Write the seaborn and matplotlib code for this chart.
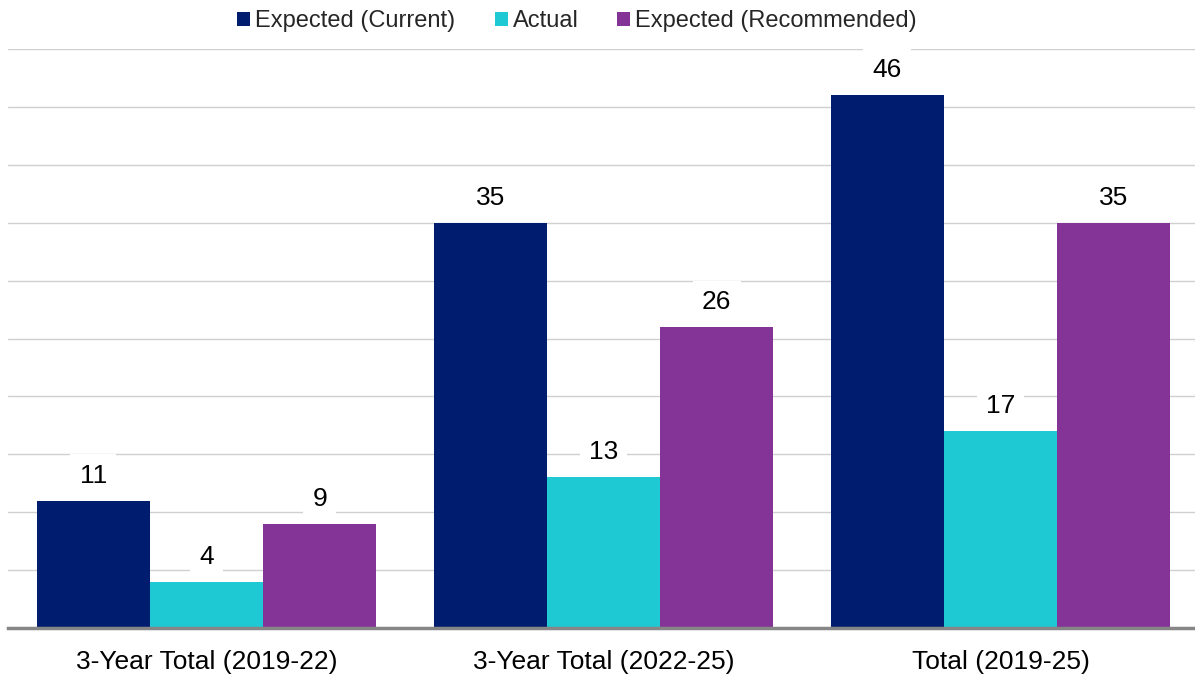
import matplotlib
matplotlib.use("Agg")
import matplotlib.pyplot as plt
import seaborn as sns
import pandas as pd
from matplotlib.patches import Patch

categories = ["3-Year Total (2019-22)", "3-Year Total (2022-25)", "Total (2019-25)"]
series_names = ["Expected (Current)", "Actual", "Expected (Recommended)"]
expected_current = [11, 35, 46]
actual = [4, 13, 17]
expected_recommended = [9, 26, 35]
colors = ["#001C6E", "#1FC9D3", "#843396"]

rows = []
for name, vals in zip(series_names, [expected_current, actual, expected_recommended]):
    for c, v in zip(categories, vals):
        rows.append({"cat": c, "series": name, "value": v})
df = pd.DataFrame(rows)

sns.set_theme(style="white")
plt.rcParams["font.family"] = ["Liberation Sans", "DejaVu Sans"]

fig = plt.figure(figsize=(11.95, 6.77), dpi=100)
ax = fig.add_axes([8/1195, 1 - 628/677, 1191/1195, (628 - 49)/677])

sns.barplot(data=df, x="cat", y="value", hue="series", order=categories,
            hue_order=series_names, palette=colors, width=0.855, ax=ax,
            saturation=1, legend=False, linewidth=0, zorder=3)

ax.set_ylim(0, 50)
ax.set_xlim(-0.5, 2.5)
ax.set_yticks(range(0, 51, 5))
ax.yaxis.grid(True, color="#D0D0D0", linewidth=1, zorder=0)
ax.set_axisbelow(True)
ax.tick_params(axis="y", left=False, labelleft=False)
ax.tick_params(axis="x", bottom=False, labelsize=19, pad=10, colors="black")
ax.set_xlabel("")
ax.set_ylabel("")
for s in ["left", "right", "top"]:
    ax.spines[s].set_visible(False)
ax.spines["bottom"].set_color("#868686")
ax.spines["bottom"].set_linewidth(2.5)
ax.spines["bottom"].set_zorder(5)

for cont in ax.containers:
    for bar in cont:
        h = bar.get_height()
        ax.annotate(f"{int(round(h))}", (bar.get_x() + bar.get_width()/2, h),
                    xytext=(0, 18), textcoords="offset points", ha="center", va="center",
                    fontsize=19, color="black", zorder=6,
                    bbox=dict(boxstyle="square,pad=0.35", fc="white", ec="none"))

legend_x = [237, 495, 617]
for name, col, lx in zip(series_names, colors, legend_x):
    leg = fig.legend([Patch(facecolor=col, edgecolor="none")], [name],
                     loc="center left", bbox_to_anchor=(lx/1195, 1 - 21/677),
                     frameon=False, fontsize=17, handlelength=0.55, handleheight=0.55,
                     handletextpad=0.2, borderpad=0, borderaxespad=0)

fig.savefig("out.png", dpi=100)
